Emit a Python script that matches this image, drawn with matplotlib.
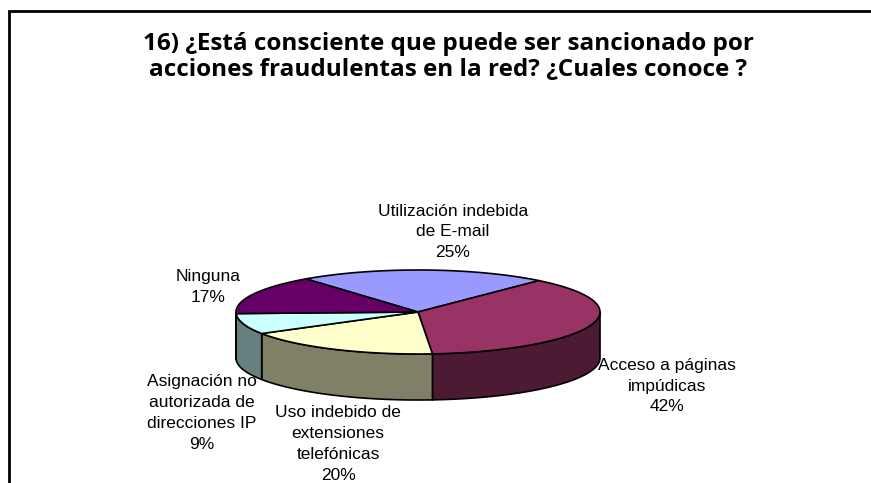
import numpy as np
import matplotlib
matplotlib.use("Agg")
import matplotlib.pyplot as plt

title = "16) ¿Está consciente que puede ser sancionado por\nacciones fraudulentas en la red? ¿Cuales conoce ?"

categories = [
    "Utilización indebida\nde E-mail",
    "Acceso a páginas\nimpúdicas",
    "Uso indebido de\nextensiones\ntelefónicas",
    "Asignación no\nautorizada de\ndirecciones IP",
    "Ninguna",
]
percents = [25, 42, 20, 9, 17]
top_colors = ["#9999FF", "#993366", "#FFFFCC", "#CCFFFF", "#660066"]
side_colors = ["#4D4D80", "#4D1A33", "#808066", "#668080", "#330033"]
label_pos = [(453, 232), (667, 386), (338, 444), (202, 413), (208, 287)]

# pie geometry, in pixels
cx, cy = 418, 312
rx, ry = 182, 42
depth = 46
start = 128

fig = plt.figure(figsize=(8.71, 4.83), dpi=100)
ax = fig.add_axes([0, 0, 1, 1])
ax.set_xlim(0, 871)
ax.set_ylim(483, 0)
ax.axis("off")

# chart border runs off the right and bottom of the image
ax.plot([9, 9, 871], [483, 11, 11], color="black", lw=2, solid_joinstyle="miter")


def rim(a0, a1):
    t = np.radians(np.linspace(a0, a1, 120))
    return cx + rx * np.cos(t), cy - ry * np.sin(t)


# slices run clockwise from the start angle
shares = np.array(percents) / sum(percents) * 360
ends = start - np.cumsum(shares)
begins = ends + shares

# side walls first, only the lower half of the rim is visible
for a0, a1, c in zip(begins, ends, side_colors):
    lo = max(a1, -180)
    hi = min(a0, 0)
    if hi <= lo:
        continue
    x, y = rim(lo, hi)
    ax.fill(np.r_[x, x[::-1]], np.r_[y, y[::-1] + depth], facecolor=c, edgecolor="black", lw=1.2, zorder=2)

for a0, a1, c in zip(begins, ends, top_colors):
    x, y = rim(a0, a1)
    ax.fill(np.r_[cx, x], np.r_[cy, y], facecolor=c, edgecolor="black", lw=1.2, zorder=3)

ax.text(448, 57, title, ha="center", va="center", fontsize=17.5, fontweight="bold",
        family="Open Sans", linespacing=1.15, zorder=5)

for name, pct, (lx, ly) in zip(categories, percents, label_pos):
    ax.text(lx, ly, f"{name}\n{pct}%", ha="center", va="center", fontsize=12.5,
            family="Liberation Sans", linespacing=1.48, zorder=5)

fig.savefig("out.png", dpi=100)
